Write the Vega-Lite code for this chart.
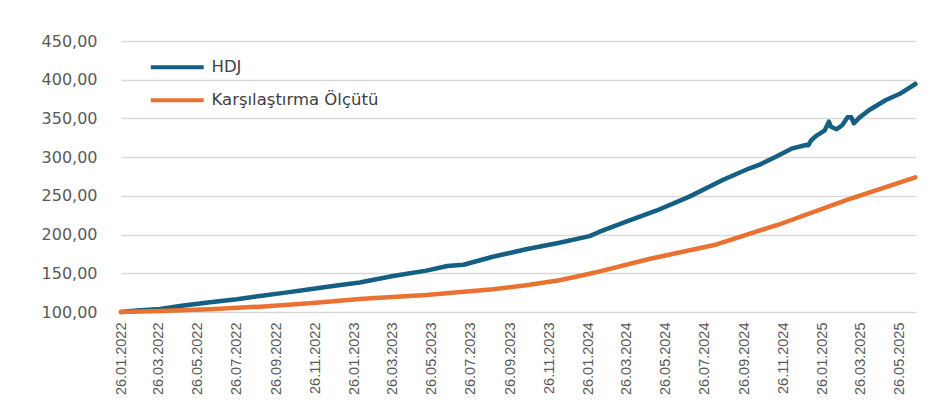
{
  "$schema": "https://vega.github.io/schema/vega-lite/v6.json",
  "width": 795,
  "height": 271,
  "autosize": {"type": "none"},
  "padding": {"left": 121, "top": 41, "right": 34, "bottom": 98},
  "background": "#ffffff",
  "config": {"view": {"stroke": null}},
  "data": {
    "values": [
      {"date": "2022-01-26", "series": "HDJ", "value": 100},
      {"date": "2022-02-20", "series": "HDJ", "value": 101.8},
      {"date": "2022-03-28", "series": "HDJ", "value": 104},
      {"date": "2022-05-01", "series": "HDJ", "value": 108},
      {"date": "2022-06-14", "series": "HDJ", "value": 112.5},
      {"date": "2022-07-26", "series": "HDJ", "value": 116.5},
      {"date": "2022-08-31", "series": "HDJ", "value": 120.7},
      {"date": "2022-10-10", "series": "HDJ", "value": 125},
      {"date": "2022-11-17", "series": "HDJ", "value": 129.3},
      {"date": "2022-12-26", "series": "HDJ", "value": 134},
      {"date": "2023-02-03", "series": "HDJ", "value": 138},
      {"date": "2023-03-27", "series": "HDJ", "value": 146.5},
      {"date": "2023-05-18", "series": "HDJ", "value": 153.4},
      {"date": "2023-06-20", "series": "HDJ", "value": 159.5},
      {"date": "2023-07-15", "series": "HDJ", "value": 161},
      {"date": "2023-08-30", "series": "HDJ", "value": 171.4},
      {"date": "2023-10-21", "series": "HDJ", "value": 181},
      {"date": "2023-12-12", "series": "HDJ", "value": 189.5},
      {"date": "2024-01-28", "series": "HDJ", "value": 198},
      {"date": "2024-02-13", "series": "HDJ", "value": 203.7},
      {"date": "2024-03-20", "series": "HDJ", "value": 215},
      {"date": "2024-05-11", "series": "HDJ", "value": 230.8},
      {"date": "2024-07-02", "series": "HDJ", "value": 249},
      {"date": "2024-08-23", "series": "HDJ", "value": 270.5},
      {"date": "2024-10-04", "series": "HDJ", "value": 285.6},
      {"date": "2024-10-19", "series": "HDJ", "value": 290},
      {"date": "2024-11-14", "series": "HDJ", "value": 300.6},
      {"date": "2024-12-10", "series": "HDJ", "value": 311.4},
      {"date": "2024-12-31", "series": "HDJ", "value": 315.7},
      {"date": "2025-01-04", "series": "HDJ", "value": 315.5},
      {"date": "2025-01-08", "series": "HDJ", "value": 321.5},
      {"date": "2025-01-16", "series": "HDJ", "value": 327.5},
      {"date": "2025-01-29", "series": "HDJ", "value": 334.2},
      {"date": "2025-02-05", "series": "HDJ", "value": 345.8},
      {"date": "2025-02-08", "series": "HDJ", "value": 339.3},
      {"date": "2025-02-17", "series": "HDJ", "value": 336},
      {"date": "2025-02-26", "series": "HDJ", "value": 341.5},
      {"date": "2025-03-06", "series": "HDJ", "value": 351.4},
      {"date": "2025-03-12", "series": "HDJ", "value": 351.4},
      {"date": "2025-03-16", "series": "HDJ", "value": 343.7},
      {"date": "2025-03-25", "series": "HDJ", "value": 351.4},
      {"date": "2025-04-09", "series": "HDJ", "value": 360.9},
      {"date": "2025-05-05", "series": "HDJ", "value": 373.8},
      {"date": "2025-05-26", "series": "HDJ", "value": 381.5},
      {"date": "2025-06-20", "series": "HDJ", "value": 394.5},
      {"date": "2022-01-26", "series": "Karşılaştırma Ölçütü", "value": 100},
      {"date": "2022-03-28", "series": "Karşılaştırma Ölçütü", "value": 101.3},
      {"date": "2022-06-14", "series": "Karşılaştırma Ölçütü", "value": 103.5},
      {"date": "2022-08-31", "series": "Karşılaştırma Ölçütü", "value": 106.9},
      {"date": "2022-11-17", "series": "Karşılaştırma Ölçütü", "value": 111.2},
      {"date": "2023-02-08", "series": "Karşılaştırma Ölçütü", "value": 117},
      {"date": "2023-05-18", "series": "Karşılaştırma Ölçütü", "value": 122},
      {"date": "2023-08-30", "series": "Karşılaştırma Ölçütü", "value": 129.3},
      {"date": "2023-10-21", "series": "Karşılaştırma Ölçütü", "value": 134.5},
      {"date": "2023-12-12", "series": "Karşılaştırma Ölçütü", "value": 141},
      {"date": "2024-01-12", "series": "Karşılaştırma Ölçütü", "value": 146.5},
      {"date": "2024-02-13", "series": "Karşılaştırma Ölçütü", "value": 152.5},
      {"date": "2024-04-30", "series": "Karşılaştırma Ölçütü", "value": 168.5},
      {"date": "2024-08-10", "series": "Karşılaştırma Ölçütü", "value": 186.5},
      {"date": "2024-11-03", "series": "Karşılaştırma Ölçütü", "value": 209},
      {"date": "2024-11-19", "series": "Karşılaştırma Ölçütü", "value": 213},
      {"date": "2025-03-04", "series": "Karşılaştırma Ölçütü", "value": 244.6},
      {"date": "2025-06-20", "series": "Karşılaştırma Ölçütü", "value": 274}
    ]
  },
  "encoding": {
    "x": {
      "field": "date",
      "type": "temporal",
      "scale": {"type": "utc", "domain": [{"year": 2022, "month": 1, "date": 26, "utc": true}, {"year": 2025, "month": 6, "date": 21, "utc": true}]},
      "axis": {
        "title": null,
        "values": [
          {"year": 2022, "month": 1, "date": 26, "utc": true},
          {"year": 2022, "month": 3, "date": 26, "utc": true},
          {"year": 2022, "month": 5, "date": 26, "utc": true},
          {"year": 2022, "month": 7, "date": 26, "utc": true},
          {"year": 2022, "month": 9, "date": 26, "utc": true},
          {"year": 2022, "month": 11, "date": 26, "utc": true},
          {"year": 2023, "month": 1, "date": 26, "utc": true},
          {"year": 2023, "month": 3, "date": 26, "utc": true},
          {"year": 2023, "month": 5, "date": 26, "utc": true},
          {"year": 2023, "month": 7, "date": 26, "utc": true},
          {"year": 2023, "month": 9, "date": 26, "utc": true},
          {"year": 2023, "month": 11, "date": 26, "utc": true},
          {"year": 2024, "month": 1, "date": 26, "utc": true},
          {"year": 2024, "month": 3, "date": 26, "utc": true},
          {"year": 2024, "month": 5, "date": 26, "utc": true},
          {"year": 2024, "month": 7, "date": 26, "utc": true},
          {"year": 2024, "month": 9, "date": 26, "utc": true},
          {"year": 2024, "month": 11, "date": 26, "utc": true},
          {"year": 2025, "month": 1, "date": 26, "utc": true},
          {"year": 2025, "month": 3, "date": 26, "utc": true},
          {"year": 2025, "month": 5, "date": 26, "utc": true}
        ],
        "format": "%d.%m.%Y",
        "labelAngle": 270,
        "labelAlign": "right",
        "labelBaseline": "middle",
        "labelFont": "Liberation Sans",
        "labelFontSize": 14.5,
        "labelColor": "#595959",
        "labelPadding": 10,
        "labelOverlap": false,
        "labelFlush": false,
        "labelBound": false,
        "ticks": false,
        "domain": false,
        "grid": false
      }
    },
    "y": {
      "field": "value",
      "type": "quantitative",
      "scale": {"domain": [100, 450], "nice": false, "zero": false},
      "axis": {
        "title": null,
        "values": [100, 150, 200, 250, 300, 350, 400, 450],
        "labelExpr": "replace(format(datum.value, '.2f'), '.', ',')",
        "labelFont": "DejaVu Sans",
        "labelFontSize": 16,
        "labelColor": "#595959",
        "labelPadding": 24,
        "ticks": false,
        "domain": false,
        "grid": true,
        "gridColor": "#d9d9d9",
        "gridWidth": 1.5
      }
    },
    "color": {
      "field": "series",
      "type": "nominal",
      "scale": {"domain": ["HDJ", "Karşılaştırma Ölçütü"], "range": ["#156082", "#E97132"]},
      "legend": {
        "title": null,
        "orient": "none",
        "legendX": 48,
        "legendY": 18,
        "direction": "vertical",
        "symbolType": "M-5,0H5",
        "symbolSize": 112,
        "symbolStrokeWidth": 4,
        "labelOffset": 26,
        "labelFont": "DejaVu Sans",
        "labelFontSize": 16.5,
        "labelColor": "#404040",
        "labelLimit": 400,
        "rowPadding": 16
      }
    }
  },
  "layer": [
    {
      "transform": [{"filter": "datum.series === 'HDJ'"}],
      "mark": {"type": "line", "strokeWidth": 4.5, "strokeCap": "round", "strokeJoin": "round"}
    },
    {
      "transform": [{"filter": "datum.series !== 'HDJ'"}],
      "mark": {"type": "line", "strokeWidth": 4.5, "strokeCap": "round", "strokeJoin": "round"}
    }
  ]
}
